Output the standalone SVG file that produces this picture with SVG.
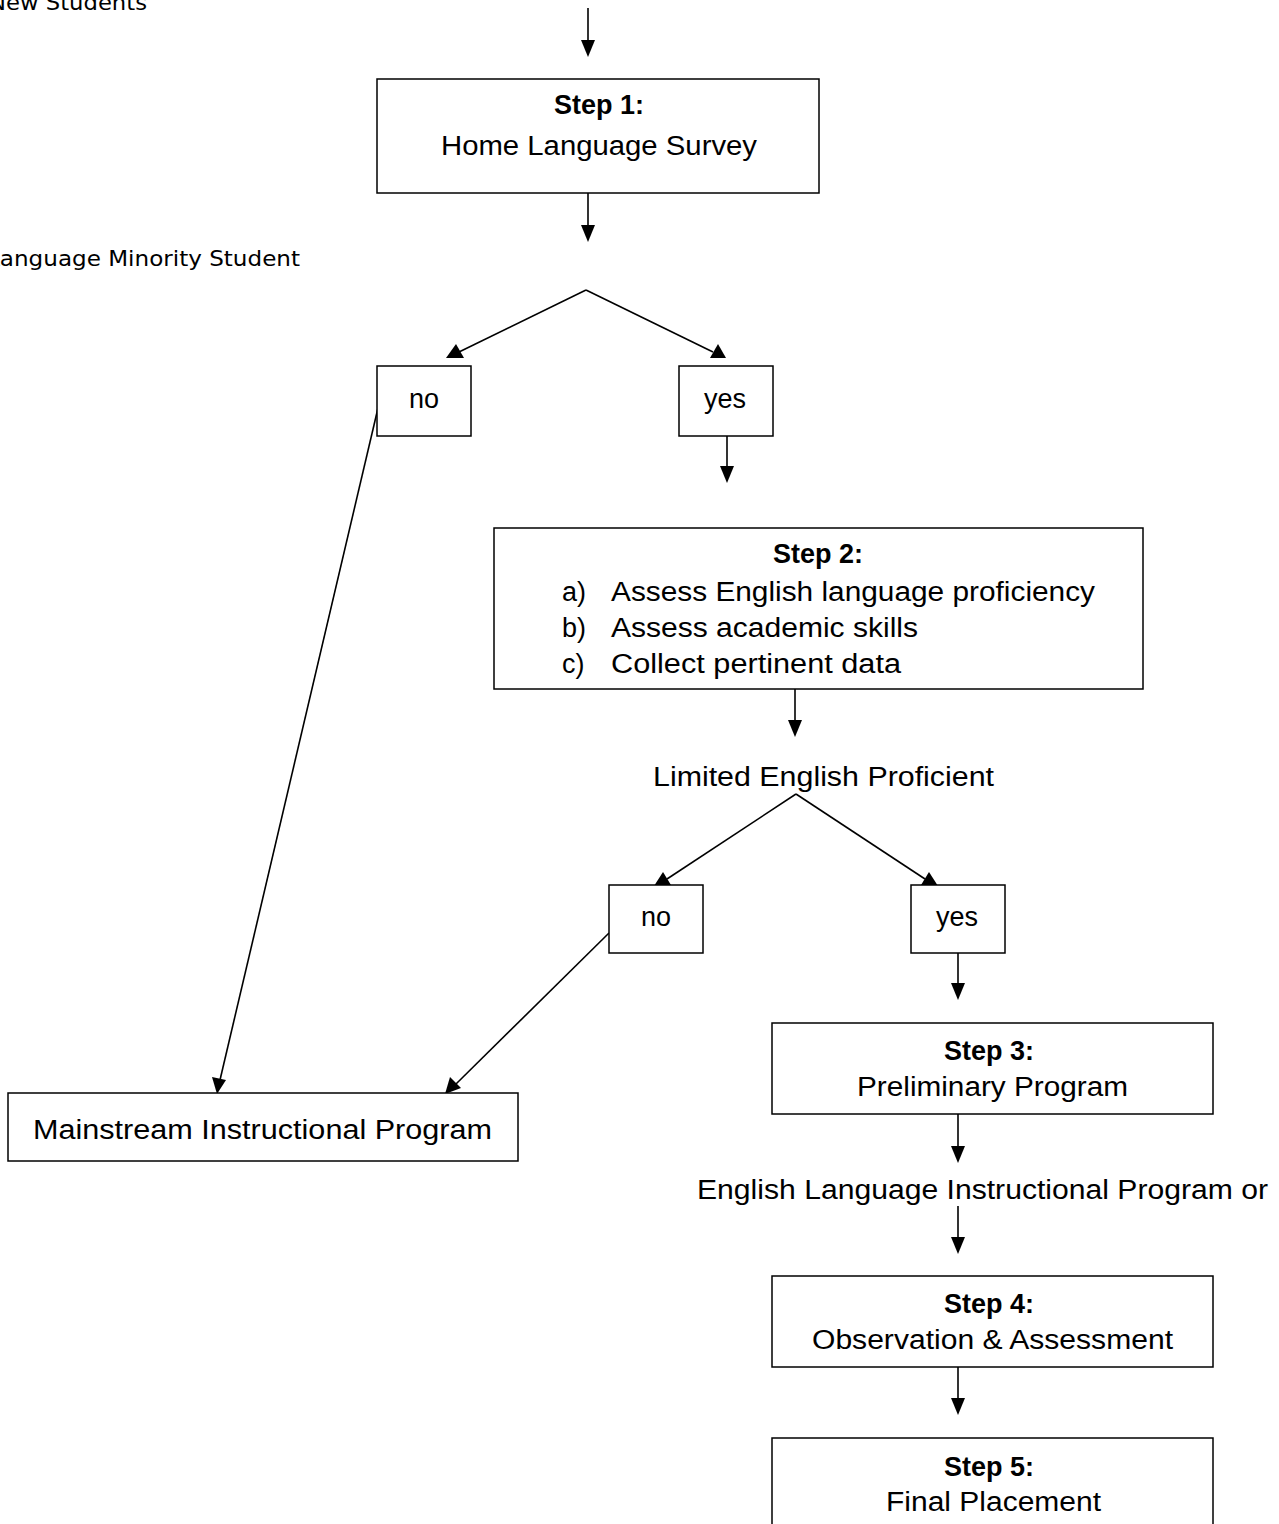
<svg xmlns="http://www.w3.org/2000/svg" width="1279" height="1524" viewBox="0 0 1279 1524">
<defs>
<style>
.box{fill:#fff;stroke:#000;stroke-width:1.5}
.t{font-family:"Liberation Sans",Arial,sans-serif;font-size:27px;fill:#000}
.b{font-family:"Liberation Sans",Arial,sans-serif;font-size:27px;fill:#000;font-weight:bold}
.s{font-family:"DejaVu Sans",Verdana,sans-serif;font-size:21px;fill:#000}
.c{fill:none;stroke:#000;stroke-width:1.6}
</style>
</defs>
<rect width="1279" height="1524" fill="#fff"/>
<g id="connectors">
<line class="c" x1="588" y1="8" x2="588" y2="45"/>
<path d="M581,40 L595,40 L588,57 z"/>
<line class="c" x1="588" y1="193" x2="588" y2="230"/>
<path d="M581,225 L595,225 L588,242 z"/>
<line class="c" x1="586" y1="290" x2="459" y2="352"/>
<path d="M446,358 L456,344 L464,358 z"/>
<line class="c" x1="586" y1="290" x2="713" y2="352"/>
<path d="M726,358 L710,358 L718,344 z"/>
<line class="c" x1="727" y1="436" x2="727" y2="470"/>
<path d="M720,466 L734,466 L727,483 z"/>
<line class="c" x1="795" y1="689" x2="795" y2="725"/>
<path d="M788,720 L802,720 L795,737 z"/>
<line class="c" x1="796" y1="794" x2="667" y2="879"/>
<path d="M654,886 L663,872 L671,885 z"/>
<line class="c" x1="796" y1="794" x2="925" y2="879"/>
<path d="M938,886 L921,885 L929,872 z"/>
<line class="c" x1="958" y1="953" x2="958" y2="990"/>
<path d="M951,983 L965,983 L958,1000 z"/>
<line class="c" x1="958" y1="1114" x2="958" y2="1150"/>
<path d="M951,1146 L965,1146 L958,1163 z"/>
<line class="c" x1="958" y1="1206" x2="958" y2="1240"/>
<path d="M951,1237 L965,1237 L958,1254 z"/>
<line class="c" x1="958" y1="1367" x2="958" y2="1400"/>
<path d="M951,1398 L965,1398 L958,1415 z"/>
<line class="c" x1="378" y1="408" x2="220" y2="1080"/>
<path d="M212,1077 L226,1080 L217,1094 z"/>
<line class="c" x1="609" y1="933" x2="456" y2="1084"/>
<path d="M450,1077 L461,1088 L445,1094 z"/>
</g>
<g id="label-new-students"><text class="s" x="-11" y="10" textLength="158" lengthAdjust="spacingAndGlyphs">New Students</text></g>
<g id="label-lms"><text class="s" x="-13" y="266" textLength="313" lengthAdjust="spacingAndGlyphs">Language Minority Student</text></g>
<g id="step1">
<rect class="box" x="377" y="79" width="442" height="114"/>
<text class="b" x="599" y="114" text-anchor="middle">Step 1:</text>
<text class="t" x="599" y="155" text-anchor="middle" textLength="316" lengthAdjust="spacingAndGlyphs">Home Language Survey</text>
</g>
<g id="no1">
<rect class="box" x="377" y="366" width="94" height="70"/>
<text class="t" x="424" y="408" text-anchor="middle">no</text>
</g>
<g id="yes1">
<rect class="box" x="679" y="366" width="94" height="70"/>
<text class="t" x="725" y="408" text-anchor="middle">yes</text>
</g>
<g id="step2">
<rect class="box" x="494" y="528" width="649" height="161"/>
<text class="b" x="818" y="563" text-anchor="middle">Step 2:</text>
<text class="t" x="562" y="601">a)</text>
<text class="t" x="611" y="601" textLength="484" lengthAdjust="spacingAndGlyphs">Assess English language proficiency</text>
<text class="t" x="562" y="637">b)</text>
<text class="t" x="611" y="637" textLength="307" lengthAdjust="spacingAndGlyphs">Assess academic skills</text>
<text class="t" x="562" y="673">c)</text>
<text class="t" x="611" y="673" textLength="290" lengthAdjust="spacingAndGlyphs">Collect pertinent data</text>
</g>
<g id="label-lep"><text class="t" x="653" y="786" textLength="341" lengthAdjust="spacingAndGlyphs">Limited English Proficient</text></g>
<g id="no2">
<rect class="box" x="609" y="885" width="94" height="68"/>
<text class="t" x="656" y="926" text-anchor="middle">no</text>
</g>
<g id="yes2">
<rect class="box" x="911" y="885" width="94" height="68"/>
<text class="t" x="957" y="926" text-anchor="middle">yes</text>
</g>
<g id="mainstream">
<rect class="box" x="8" y="1093" width="510" height="68"/>
<text class="t" x="33" y="1139" textLength="459" lengthAdjust="spacingAndGlyphs">Mainstream Instructional Program</text>
</g>
<g id="step3">
<rect class="box" x="772" y="1023" width="441" height="91"/>
<text class="b" x="989" y="1060" text-anchor="middle">Step 3:</text>
<text class="t" x="857" y="1096" textLength="271" lengthAdjust="spacingAndGlyphs">Preliminary Program</text>
</g>
<g id="label-elip"><text class="t" x="697" y="1199" textLength="571" lengthAdjust="spacingAndGlyphs">English Language Instructional Program or</text></g>
<g id="step4">
<rect class="box" x="772" y="1276" width="441" height="91"/>
<text class="b" x="989" y="1313" text-anchor="middle">Step 4:</text>
<text class="t" x="812" y="1349" textLength="361" lengthAdjust="spacingAndGlyphs">Observation &amp; Assessment</text>
</g>
<g id="step5">
<rect class="box" x="772" y="1438" width="441" height="100"/>
<text class="b" x="989" y="1476" text-anchor="middle">Step 5:</text>
<text class="t" x="886" y="1511" textLength="215" lengthAdjust="spacingAndGlyphs">Final Placement</text>
</g>
</svg>
